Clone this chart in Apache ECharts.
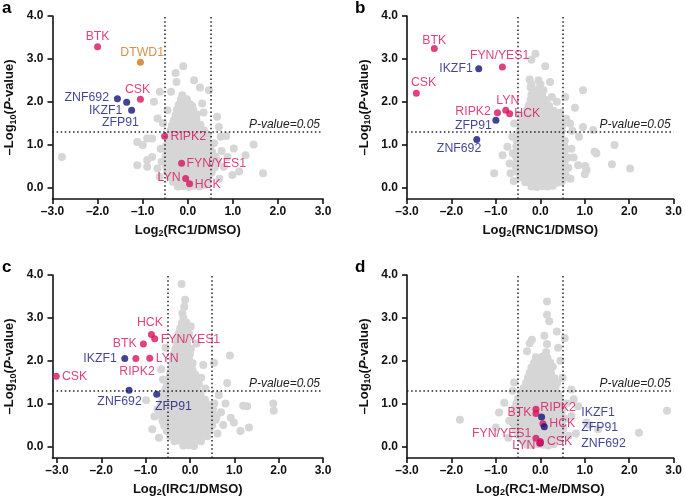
<!DOCTYPE html>
<html><head><meta charset="utf-8">
<script src="https://cdn.jsdelivr.net/npm/echarts@6/dist/echarts.min.js"></script>
<style>html,body{margin:0;padding:0;background:#fff}#c{width:685px;height:500px}</style>
</head><body><div id="c"></div>
<script>
// ---------- DATA ----------
const xTicks = [-3, -2, -1, 0, 1, 2, 3];
const yTicks = [0, 1, 2, 3, 4];
const panelLetters = ['a', 'b', 'c', 'd'];
const xRatios = ['RC1', 'RNC1', 'IRC1', 'RC1-Me'];
const pThreshold = 1.3;     // -log10(0.05)
const fcThreshold = 0.5;

const navyGenes = ['IKZF1', 'ZFP91', 'ZNF692'];
const orangeGenes = ['DTWD1'];

const genesA = ['BTK', 'DTWD1', 'CSK', 'ZNF692', 'IKZF1', 'ZFP91', 'RIPK2', 'FYN/YES1', 'LYN', 'HCK'];
const fcA = [-2.0, -1.05, -1.05, -1.56, -1.355, -1.245, -0.514, -0.137, -0.047, 0.04];
const pA = [3.28, 2.92, 2.06, 2.07, 1.99, 1.80, 1.195, 0.566, 0.21, 0.085];

const genesB = ['BTK', 'CSK', 'IKZF1', 'FYN/YES1', 'RIPK2', 'LYN', 'HCK', 'ZFP91', 'ZNF692'];
const fcB = [-2.386, -2.79, -1.386, -0.853, -0.964, -0.778, -0.69, -1.0, -1.43];
const pB = [3.24, 2.2, 2.77, 2.81, 1.74, 1.8, 1.72, 1.57, 1.12];

const genesC = ['HCK', 'FYN/YES1', 'BTK', 'IKZF1', 'RIPK2', 'LYN', 'CSK', 'ZNF692', 'ZFP91'];
const fcC = [-0.869, -0.795, -1.05, -1.47, -1.22, -0.907, -3.016, -1.373, -0.75];
const pC = [2.61, 2.51, 2.39, 2.05, 2.05, 2.06, 1.64, 1.31, 1.22];

const genesD = ['ZNF692', 'BTK', 'RIPK2', 'IKZF1', 'HCK', 'ZFP91', 'FYN/YES1', 'CSK', 'LYN'];
const fcD = [0.0, -0.098, -0.098, 0.029, 0.058, 0.089, -0.098, 0.0, -0.015];
const pD = [0.08, 0.865, 0.77, 0.687, 0.53, 0.46, 0.19, 0.115, 0.077];

// background proteins: [log2 ratio, -log10 p]
const greyA = [
[-0.22,0.02],[-0.1,0.03],[0.02,0.01],[0.14,0.04],[0.26,0.02],[0.36,0.05],
[-0.33,0.13],[-0.2,0.12],[-0.07,0.14],[0.06,0.12],[0.19,0.15],[0.31,0.13],[0.43,0.11],
[-0.4,0.25],[-0.28,0.24],[-0.15,0.26],[-0.02,0.25],[0.1,0.23],[0.23,0.26],[0.35,0.24],[0.47,0.27],
[-0.46,0.37],[-0.34,0.38],[-0.21,0.36],[-0.08,0.37],[0.05,0.39],[0.17,0.36],[0.3,0.38],[0.42,0.37],[0.53,0.35],
[-0.48,0.49],[-0.36,0.5],[-0.24,0.48],[-0.11,0.49],[0.02,0.47],[0.14,0.5],[0.27,0.49],[0.39,0.48],[0.51,0.5],[0.6,0.47],
[-0.47,0.61],[-0.35,0.62],[-0.22,0.6],[-0.1,0.61],[0.03,0.63],[0.16,0.6],[0.28,0.62],[0.41,0.61],[0.53,0.6],
[-0.49,0.73],[-0.37,0.72],[-0.24,0.74],[-0.12,0.73],[0.01,0.71],[0.13,0.74],[0.26,0.73],[0.38,0.72],[0.5,0.74],[0.62,0.72],
[-0.46,0.85],[-0.34,0.86],[-0.21,0.84],[-0.09,0.85],[0.04,0.87],[0.16,0.84],[0.29,0.86],[0.41,0.85],[0.54,0.83],
[-0.48,0.97],[-0.36,0.96],[-0.23,0.98],[-0.11,0.97],[0.02,0.95],[0.15,0.98],[0.27,0.97],[0.39,0.96],[0.5,0.98],
[-0.44,1.09],[-0.32,1.1],[-0.19,1.08],[-0.07,1.09],[0.06,1.11],[0.18,1.08],[0.3,1.1],[0.42,1.09],
[-0.41,1.21],[-0.29,1.2],[-0.16,1.22],[-0.04,1.21],[0.08,1.19],[0.21,1.22],[0.33,1.21],[0.45,1.2],
[-0.38,1.33],[-0.26,1.34],[-0.13,1.32],[-0.01,1.33],[0.11,1.35],[0.24,1.32],[0.36,1.33],
[-0.35,1.45],[-0.22,1.44],[-0.1,1.46],[0.03,1.45],[0.15,1.43],[0.28,1.46],
[-0.31,1.57],[-0.18,1.58],[-0.06,1.56],[0.07,1.57],[0.19,1.59],
[-0.27,1.69],[-0.14,1.7],[-0.02,1.68],[0.1,1.69],[0.2,1.71],
[-0.24,1.81],[-0.11,1.82],[0.02,1.8],[0.12,1.81],
[-0.2,1.93],[-0.07,1.92],[0.05,1.94],
[-0.15,2.05],[-0.02,2.06],
[-0.1,2.83],[-0.27,2.67],[0.14,2.5],[-0.25,2.46],[0.27,2.33],[-0.37,2.23],[-0.12,2.15],[0.47,2.27],
[-0.62,2.23],[-0.75,2.0],[0.32,1.96],[0.1,1.9],[-0.67,1.61],[0.65,1.65],[0.69,1.41],[0.73,1.18],
[0.58,1.03],[1.02,0.91],[1.46,1.0],[1.28,0.75],[0.99,0.29],[1.14,0.37],[1.67,0.33],[0.8,0.48],
[0.88,0.71],[-0.9,1.14],[-1.12,1.06],[-1.0,0.99],[-0.79,0.71],[-0.9,0.64],[-1.12,0.52],[-0.9,0.48],
[-0.67,0.44],[-2.79,0.71],[-0.6,0.9],[-0.62,0.25],[0.7,0.2],[0.75,0.85],[0.35,1.75],[-0.45,1.8],
[-0.55,1.5],[0.85,1.2],[-0.58,0.6],[0.66,0.6],[-0.79,1.14]
];
const greyB = [
[-0.2,0.02],[-0.08,0.01],[0.04,0.03],[0.16,0.02],[0.28,0.04],
[-0.34,0.12],[-0.22,0.13],[-0.1,0.11],[0.02,0.12],[0.14,0.14],[0.26,0.12],[0.38,0.11],[0.48,0.13],
[-0.46,0.24],[-0.34,0.23],[-0.22,0.25],[-0.1,0.24],[0.02,0.22],[0.14,0.25],[0.26,0.24],[0.38,0.23],[0.5,0.25],[0.6,0.24],
[-0.52,0.36],[-0.4,0.37],[-0.28,0.35],[-0.16,0.36],[-0.04,0.38],[0.08,0.35],[0.2,0.37],[0.32,0.36],[0.44,0.35],[0.56,0.37],
[-0.55,0.48],[-0.43,0.47],[-0.31,0.49],[-0.19,0.48],[-0.07,0.46],[0.05,0.49],[0.17,0.48],[0.29,0.47],[0.41,0.49],[0.53,0.48],[0.63,0.46],
[-0.53,0.6],[-0.41,0.61],[-0.29,0.59],[-0.17,0.6],[-0.05,0.62],[0.07,0.59],[0.19,0.61],[0.31,0.6],[0.43,0.59],[0.55,0.61],
[-0.55,0.72],[-0.43,0.71],[-0.31,0.73],[-0.19,0.72],[-0.07,0.7],[0.05,0.73],[0.17,0.72],[0.29,0.71],[0.41,0.73],[0.53,0.72],[0.62,0.7],
[-0.53,0.84],[-0.41,0.85],[-0.29,0.83],[-0.17,0.84],[-0.05,0.86],[0.07,0.83],[0.19,0.85],[0.31,0.84],[0.43,0.83],[0.55,0.85],
[-0.54,0.96],[-0.42,0.95],[-0.3,0.97],[-0.18,0.96],[-0.06,0.94],[0.06,0.97],[0.18,0.96],[0.3,0.95],[0.42,0.97],[0.54,0.96],
[-0.52,1.08],[-0.4,1.09],[-0.28,1.07],[-0.16,1.08],[-0.04,1.1],[0.08,1.07],[0.2,1.09],[0.32,1.08],[0.44,1.07],[0.55,1.09],
[-0.5,1.2],[-0.38,1.19],[-0.26,1.21],[-0.14,1.2],[-0.02,1.18],[0.1,1.21],[0.22,1.2],[0.34,1.19],[0.46,1.21],
[-0.47,1.32],[-0.35,1.33],[-0.23,1.31],[-0.11,1.32],[0.01,1.34],[0.13,1.31],[0.25,1.33],[0.37,1.32],[0.48,1.31],
[-0.44,1.44],[-0.32,1.43],[-0.2,1.45],[-0.08,1.44],[0.04,1.42],[0.16,1.45],[0.28,1.44],[0.4,1.43],[0.5,1.45],
[-0.4,1.56],[-0.28,1.57],[-0.16,1.55],[-0.04,1.56],[0.08,1.58],[0.2,1.55],[0.32,1.57],[0.44,1.56],
[-0.35,1.68],[-0.23,1.67],[-0.11,1.69],[0.01,1.68],[0.13,1.66],[0.25,1.69],[0.37,1.68],
[-0.3,1.8],[-0.18,1.81],[-0.06,1.79],[0.06,1.8],[0.18,1.82],[0.3,1.79],
[-0.26,1.92],[-0.14,1.91],[-0.02,1.93],[0.1,1.92],[0.2,1.9],
[-0.22,2.04],[-0.1,2.05],[0.02,2.03],[0.14,2.04],
[-0.2,2.16],[-0.08,2.15],[0.04,2.17],
[-0.16,2.28],[-0.04,2.29],
[-0.2,2.4],[0.0,2.41],
[-0.11,3.12],[-0.2,2.98],[0.11,2.83],[-0.24,2.52],[-0.04,2.5],[0.22,2.46],[-0.22,2.33],[0.07,2.27],
[0.26,2.11],[0.37,2.0],[0.96,2.27],[0.78,1.86],[0.56,2.11],[0.72,1.32],[0.96,1.41],[1.19,1.34],
[1.22,0.83],[1.26,0.79],[1.67,0.99],[1.01,0.5],[1.04,0.4],[0.85,0.52],[1.61,0.54],[2.02,0.44],
[1.0,0.31],[0.67,1.49],[0.87,1.18],[-0.59,1.49],[-0.63,1.18],[-0.74,0.95],[-0.85,0.75],[-0.69,0.56],
[-1.04,0.33],[-0.67,0.33],[-0.62,0.8],[0.7,0.9],[0.75,0.7],[0.68,0.2],[-0.6,0.15],[0.58,1.6],
[-0.48,1.7],[0.45,1.75]
];
const greyC = [
[-0.15,0.02],[-0.03,0.03],[0.09,0.01],
[-0.35,0.12],[-0.23,0.13],[-0.11,0.11],[0.01,0.12],[0.13,0.14],[0.25,0.12],
[-0.45,0.24],[-0.33,0.25],[-0.21,0.23],[-0.09,0.24],[0.03,0.26],[0.15,0.23],[0.27,0.25],[0.39,0.24],
[-0.52,0.36],[-0.4,0.35],[-0.28,0.37],[-0.16,0.36],[-0.04,0.34],[0.08,0.37],[0.2,0.36],[0.32,0.35],[0.44,0.37],
[-0.58,0.48],[-0.46,0.49],[-0.34,0.47],[-0.22,0.48],[-0.1,0.5],[0.02,0.47],[0.14,0.49],[0.26,0.48],[0.38,0.47],[0.5,0.49],
[-0.62,0.6],[-0.5,0.59],[-0.38,0.61],[-0.26,0.6],[-0.14,0.58],[-0.02,0.61],[0.1,0.6],[0.22,0.59],[0.34,0.61],[0.46,0.6],[0.58,0.62],
[-0.66,0.72],[-0.54,0.73],[-0.42,0.71],[-0.3,0.72],[-0.18,0.74],[-0.06,0.71],[0.06,0.73],[0.18,0.72],[0.3,0.71],[0.42,0.73],[0.54,0.72],
[-0.68,0.84],[-0.56,0.83],[-0.44,0.85],[-0.32,0.84],[-0.2,0.82],[-0.08,0.85],[0.04,0.84],[0.16,0.83],[0.28,0.85],[0.4,0.84],[0.52,0.86],
[-0.66,0.96],[-0.54,0.97],[-0.42,0.95],[-0.3,0.96],[-0.18,0.98],[-0.06,0.95],[0.06,0.97],[0.18,0.96],[0.3,0.95],[0.42,0.97],
[-0.62,1.08],[-0.5,1.07],[-0.38,1.09],[-0.26,1.08],[-0.14,1.06],[-0.02,1.09],[0.1,1.08],[0.22,1.07],[0.34,1.09],
[-0.6,1.2],[-0.48,1.21],[-0.36,1.19],[-0.24,1.2],[-0.12,1.22],[0.0,1.19],[0.12,1.21],[0.24,1.2],
[-0.56,1.32],[-0.44,1.31],[-0.32,1.33],[-0.2,1.32],[-0.08,1.3],[0.04,1.33],[0.16,1.32],
[-0.52,1.44],[-0.4,1.45],[-0.28,1.43],[-0.16,1.44],[-0.04,1.46],[0.08,1.43],[0.2,1.45],
[-0.48,1.56],[-0.36,1.55],[-0.24,1.57],[-0.12,1.56],[0.0,1.54],[0.12,1.57],
[-0.45,1.68],[-0.33,1.69],[-0.21,1.67],[-0.09,1.68],[0.03,1.7],[0.12,1.67],
[-0.42,1.8],[-0.3,1.79],[-0.18,1.81],[-0.06,1.8],[0.06,1.78],
[-0.4,1.92],[-0.28,1.93],[-0.16,1.91],[-0.04,1.92],[0.06,1.94],
[-0.38,2.04],[-0.26,2.03],[-0.14,2.05],[-0.02,2.04],
[-0.36,2.16],[-0.24,2.17],[-0.12,2.15],[0.0,2.16],
[-0.33,2.28],[-0.21,2.27],[-0.09,2.29],[0.02,2.28],
[-0.3,2.4],[-0.18,2.41],[-0.06,2.39],
[-0.28,2.52],[-0.16,2.51],[-0.04,2.53],
[-0.25,2.64],[-0.13,2.65],[-0.02,2.63],
[-0.22,2.76],[-0.1,2.77],
[-0.18,2.88],[-0.08,2.89],
[-0.15,3.0],
[-0.19,3.79],[-0.13,3.26],[-0.17,3.11],[-0.11,3.42],[0.02,2.8],[0.9,2.12],[0.54,1.95],[0.84,1.48],
[1.29,0.94],[1.2,0.95],[1.88,1.0],[1.89,0.83],[1.33,0.44],[1.14,0.36],[0.99,0.56],[0.92,0.67],
[0.7,0.8],[0.75,0.5],[0.62,0.3],[0.8,1.0],[0.65,1.2],[-0.99,1.08],[-0.85,0.4],[-0.73,0.87],
[-0.61,1.56],[-0.8,0.7],[-0.7,0.2],[-0.65,1.8],[0.25,1.6],[0.3,1.9],[0.35,1.35],[-0.55,2.3],
[0.15,2.4],[0.55,1.0],[0.6,0.7]
];
const greyD = [
[-0.3,0.04],[-0.18,0.03],[-0.06,0.05],[0.06,0.04],[0.18,0.02],[0.3,0.05],
[-0.42,0.16],[-0.3,0.17],[-0.18,0.15],[-0.06,0.16],[0.06,0.18],[0.18,0.15],[0.3,0.17],[0.42,0.16],
[-0.5,0.28],[-0.38,0.27],[-0.26,0.29],[-0.14,0.28],[-0.02,0.26],[0.1,0.29],[0.22,0.28],[0.34,0.27],[0.46,0.29],
[-0.56,0.4],[-0.44,0.41],[-0.32,0.39],[-0.2,0.4],[-0.08,0.42],[0.04,0.39],[0.16,0.41],[0.28,0.4],[0.4,0.39],[0.52,0.41],
[-0.6,0.52],[-0.48,0.51],[-0.36,0.53],[-0.24,0.52],[-0.12,0.5],[0.0,0.53],[0.12,0.52],[0.24,0.51],[0.36,0.53],[0.48,0.52],
[-0.62,0.64],[-0.5,0.65],[-0.38,0.63],[-0.26,0.64],[-0.14,0.66],[-0.02,0.63],[0.1,0.65],[0.22,0.64],[0.34,0.63],[0.46,0.65],[0.56,0.64],
[-0.6,0.76],[-0.48,0.75],[-0.36,0.77],[-0.24,0.76],[-0.12,0.74],[0.0,0.77],[0.12,0.76],[0.24,0.75],[0.36,0.77],[0.48,0.76],
[-0.58,0.88],[-0.46,0.89],[-0.34,0.87],[-0.22,0.88],[-0.1,0.9],[0.02,0.87],[0.14,0.89],[0.26,0.88],[0.38,0.87],[0.5,0.89],
[-0.54,1.0],[-0.42,0.99],[-0.3,1.01],[-0.18,1.0],[-0.06,0.98],[0.06,1.01],[0.18,1.0],[0.3,0.99],[0.42,1.01],
[-0.5,1.12],[-0.38,1.13],[-0.26,1.11],[-0.14,1.12],[-0.02,1.14],[0.1,1.11],[0.22,1.13],[0.34,1.12],[0.44,1.11],
[-0.44,1.24],[-0.32,1.23],[-0.2,1.25],[-0.08,1.24],[0.04,1.22],[0.16,1.25],[0.28,1.24],[0.4,1.23],
[-0.38,1.36],[-0.26,1.37],[-0.14,1.35],[-0.02,1.36],[0.1,1.38],[0.22,1.35],[0.34,1.37],
[-0.32,1.48],[-0.2,1.47],[-0.08,1.49],[0.04,1.48],[0.16,1.46],[0.28,1.49],[0.38,1.48],
[-0.28,1.6],[-0.16,1.61],[-0.04,1.59],[0.08,1.6],[0.2,1.62],[0.32,1.59],
[-0.24,1.72],[-0.12,1.71],[0.0,1.73],[0.12,1.72],[0.24,1.7],
[-0.2,1.84],[-0.08,1.85],[0.04,1.83],[0.16,1.84],[0.28,1.86],
[-0.14,1.96],[-0.02,1.95],[0.1,1.97],[0.22,1.96],
[-0.1,2.08],[0.04,2.09],[0.16,2.07],
[0.15,3.38],[0.15,3.07],[0.2,2.92],[0.37,2.68],[0.55,2.53],[-0.19,2.49],[-0.24,2.41],[-0.3,2.22],
[0.09,2.58],[0.15,2.39],[0.13,2.2],[0.4,2.3],[-0.59,1.49],[-0.62,1.3],[-0.81,1.02],[-0.93,0.79],
[-1.0,0.44],[-1.81,0.62],[-0.7,0.6],[-0.72,0.2],[0.7,1.33],[0.85,0.94],[1.04,0.56],[1.1,0.5],
[1.3,0.4],[2.22,0.32],[2.85,0.83],[0.7,0.71],[0.63,0.25],[0.6,1.0],[0.5,1.6],[0.45,2.0],
[0.75,1.1],[0.8,0.3]
];

// ---------- STYLE / LAYOUT ----------
const FONT = '"Liberation Sans", Arial, Helvetica, sans-serif';
const PINK = '#D8125F', NAVY = '#12157C', ORANGE = '#D2741C', GREY = '#D6D6D6', INK = '#111';
const grids = [
  {left: 52, top: 16, width: 271, height: 183},
  {left: 407, top: 16, width: 270, height: 183},
  {left: 52, top: 275, width: 271, height: 183},
  {left: 407, top: 275, width: 270, height: 183}
];
const xMins = [-3, -3, -3.1, -3];
const letterPos = [[2, 0], [355, 0], [2, 259], [355, 259]];
// label placement: [align, dx, dy] relative to the dot centre (px)
const labelPlace = [
  {BTK:['center',0,-10], DTWD1:['center',1.7,-9.8], CSK:['center',-2.8,-9.2], ZNF692:['right',-8.4,-1],
   IKZF1:['right',-4.3,8], ZFP91:['right',7.3,12], RIPK2:['left',6,0.7], 'FYN/YES1':['left',5,0],
   LYN:['right',-5,-1.3], HCK:['left',5.3,0.6]},
  {BTK:['center',0,-8.1], CSK:['center',7.3,-10.3], IKZF1:['right',-6,0], 'FYN/YES1':['center',-2.8,-11],
   RIPK2:['right',-6.6,-1.7], LYN:['center',2,-10], HCK:['left',4.7,0], ZFP91:['right',-4,5], ZNF692:['center',-17.7,9.3]},
  {HCK:['center',-1.5,-12.3], 'FYN/YES1':['left',6,0.3], BTK:['right',-6.7,0], IKZF1:['right',-8,0],
   RIPK2:['center',1.2,13.3], LYN:['left',6,0], CSK:['left',5.7,0], ZNF692:['center',-9.5,11.7], ZFP91:['center',16.7,12]},
  {BTK:['right',-4.6,3.3], RIPK2:['left',4.4,-5.7], IKZF1:['left',39.7,-4.4], HCK:['left',6.4,-0.3],
   ZFP91:['left',37,1], 'FYN/YES1':['right',-4.6,-4.7], CSK:['left',6.6,0.4], LYN:['right',-4.3,2.7], ZNF692:['left',41,0.2]}
];

const greys = [greyA, greyB, greyC, greyD];
const hl = [[genesA, fcA, pA], [genesB, fcB, pB], [genesC, fcC, pC], [genesD, fcD, pD]];
const HL_SIZE = 7, GREY_SIZE = 8;

function colorOf(g) { return navyGenes.includes(g) ? NAVY : (orangeGenes.includes(g) ? ORANGE : PINK); }
function fmt(v) { return (v < 0 ? '\u2013' : '') + Math.abs(v).toFixed(1); }

const richName = {
  b: {fontFamily: FONT, fontSize: 13, fontWeight: 'bold', color: INK, lineHeight: 18},
  s: {fontFamily: FONT, fontSize: 9, fontWeight: 'bold', color: INK, lineHeight: 18, padding: [8, 0, 0, 0]},
  i: {fontFamily: FONT, fontSize: 13, fontWeight: 'bold', fontStyle: 'italic', color: INK, lineHeight: 18}
};

const xAxis = [], yAxis = [], series = [], graphic = [];
for (let i = 0; i < 4; i++) {
  xAxis.push({
    gridIndex: i, type: 'value', min: xMins[i], max: 3,
    name: '{b|Log}{s|2}{b|(' + xRatios[i] + '/DMSO)}', nameLocation: 'middle', nameGap: 22,
    nameTextStyle: {rich: richName},
    axisLine: {onZero: false, lineStyle: {color: INK, width: 1.6}},
    axisTick: {customValues: xTicks, length: 5, lineStyle: {color: INK, width: 1.6}},
    axisLabel: {customValues: xTicks, formatter: fmt, fontFamily: FONT, fontWeight: 'bold', fontSize: 12, color: INK, margin: 7},
    splitLine: {show: false}
  });
  yAxis.push({
    gridIndex: i, type: 'value', min: -0.27, max: 4,
    name: '{b|\u2013Log}{s|10}{b|(}{i|P}{b|-value)}', nameLocation: 'middle', nameGap: 34, nameRotate: 90,
    nameTextStyle: {rich: richName},
    axisLine: {onZero: false, lineStyle: {color: INK, width: 1.6}},
    axisTick: {customValues: yTicks, length: 5, lineStyle: {color: INK, width: 1.6}},
    axisLabel: {customValues: yTicks, formatter: fmt, fontFamily: FONT, fontWeight: 'bold', fontSize: 12, color: INK, margin: 9},
    splitLine: {show: false}
  });
  series.push({
    type: 'scatter', xAxisIndex: i, yAxisIndex: i, data: greys[i], symbolSize: GREY_SIZE,
    itemStyle: {color: GREY, opacity: 1}, silent: true, animation: false, z: 2,
    markLine: {
      silent: true, symbol: 'none', animation: false, z: 3,
      lineStyle: {color: '#222', type: [1.5, 2.6], width: 1.5},
      data: [
        {xAxis: -fcThreshold, label: {show: false}},
        {xAxis: fcThreshold, label: {show: false}},
        {yAxis: pThreshold, label: {show: true, position: 'insideEndTop', formatter: 'P-value=0.05',
          fontFamily: FONT, fontStyle: 'italic', fontSize: 12, color: '#222', distance: [3, 1]}}
      ]
    }
  });
  const [genes, fc, p] = hl[i];
  const data = genes.map((g, k) => {
    const pl = labelPlace[i][g];
    const c = colorOf(g);
    return {
      name: g, value: [fc[k], p[k]],
      itemStyle: {color: c},
      label: {show: true, formatter: g, position: [HL_SIZE / 2 + pl[1], HL_SIZE / 2 + pl[2]],
        align: pl[0], verticalAlign: 'middle', color: c, fontFamily: FONT, fontSize: 12.3,
        textBorderWidth: 0}
    };
  });
  series.push({type: 'scatter', xAxisIndex: i, yAxisIndex: i, data, symbolSize: HL_SIZE,
    animation: false, z: 5, labelLayout: {hideOverlap: false}});
  graphic.push({type: 'text', left: letterPos[i][0], top: letterPos[i][1], z: 10,
    style: {text: panelLetters[i], fontFamily: FONT, fontWeight: 'bold', fontSize: 17, fill: '#000'}});
}

const chart = echarts.init(document.getElementById('c'), null, {renderer: 'canvas'});
chart.setOption({animation: false, backgroundColor: '#fff', grid: grids, xAxis, yAxis, series, graphic});
</script></body></html>
